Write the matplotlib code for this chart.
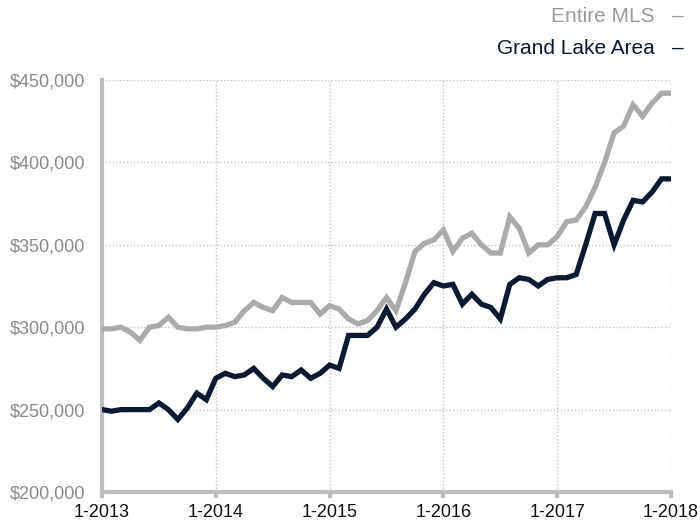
import numpy as np
import matplotlib
matplotlib.use('Agg')
import matplotlib.pyplot as plt
from matplotlib.ticker import FuncFormatter

plt.rcParams['font.family'] = ['Liberation Sans', 'DejaVu Sans']

# monthly median price, Jan 2013 .. Jan 2018 (61 months)
months = np.arange(61)
entire_mls = [299000, 299000, 300000, 297000, 292000, 300000, 301000, 306000, 300000, 299000,
              299000, 300000, 300000, 301000, 303000, 310000, 315000, 312000, 310000, 318000,
              315000, 315000, 315000, 308000, 313000, 311000, 305000, 302000, 304000, 310000,
              318000, 310000, 327000, 346000, 351000, 353000, 359000, 346000, 354000, 357000,
              350000, 345000, 345000, 367000, 360000, 345000, 350000, 350000, 355000, 364000,
              365000, 373000, 385000, 400000, 418000, 422000, 435000, 428000, 436000, 442000,
              442000]
grand_lake = [250000, 249000, 250000, 250000, 250000, 250000, 254000, 250000, 244000, 251000,
              260000, 256000, 269000, 272000, 270000, 271000, 275000, 269000, 264000, 271000,
              270000, 274000, 269000, 272000, 277000, 275000, 295000, 295000, 295000, 300000,
              311000, 300000, 305000, 311000, 320000, 327000, 325000, 326000, 314000, 320000,
              314000, 312000, 305000, 326000, 330000, 329000, 325000, 329000, 330000, 330000,
              332000, 350000, 369000, 369000, 350000, 365000, 377000, 376000, 382000, 390000,
              390000]
year_ticks = [0, 12, 24, 36, 48, 60]
year_labels = ['1-2013', '1-2014', '1-2015', '1-2016', '1-2017', '1-2018']

gray = '#aaaaaa'
navy = '#0b1a30'

fig = plt.figure(figsize=(7, 5.25), dpi=100)
ax = fig.add_axes([0.1457, 0.0629, 0.8129, 0.7847])

ax.plot(months, entire_mls, color=gray, lw=3.8, solid_joinstyle='miter', zorder=3)
ax.plot(months, grand_lake, color=navy, lw=3.8, solid_joinstyle='miter', zorder=4)

ax.set_xlim(0, 60)
ax.set_ylim(200000, 450000)
ax.set_xticks(year_ticks)
ax.set_xticklabels(year_labels)
ax.set_yticks(np.arange(200000, 450001, 50000))
ax.yaxis.set_major_formatter(FuncFormatter(lambda v, p: '${:,.0f}'.format(v)))

ax.grid(True, color='#c4c4c4', linestyle=(0, (1, 1.5)), lw=1.0)
for s in ['top', 'right']:
    ax.spines[s].set_visible(False)
for s in ['left', 'bottom']:
    ax.spines[s].set_color('#bdbdbd')
    ax.spines[s].set_linewidth(3)

ax.tick_params(axis='y', length=0, pad=12, labelsize=13, labelcolor='#8a8a8a')
ax.tick_params(axis='x', length=4, width=3, color='#bdbdbd', pad=5,
               labelsize=13, labelcolor='#111111')

# legend as plain text, label then a short dash
fig.text(655 / 700, 1 - 16 / 525, 'Entire MLS', ha='right', va='center',
         fontsize=15, color='#9a9a9a')
fig.text(678 / 700, 1 - 16 / 525, '\u2013', ha='center', va='center',
         fontsize=15, color='#9a9a9a')
fig.text(655 / 700, 1 - 48 / 525, 'Grand Lake Area', ha='right', va='center',
         fontsize=15, color=navy)
fig.text(678 / 700, 1 - 48 / 525, '\u2013', ha='center', va='center',
         fontsize=15, color=navy)

fig.savefig('out.png', dpi=100)
